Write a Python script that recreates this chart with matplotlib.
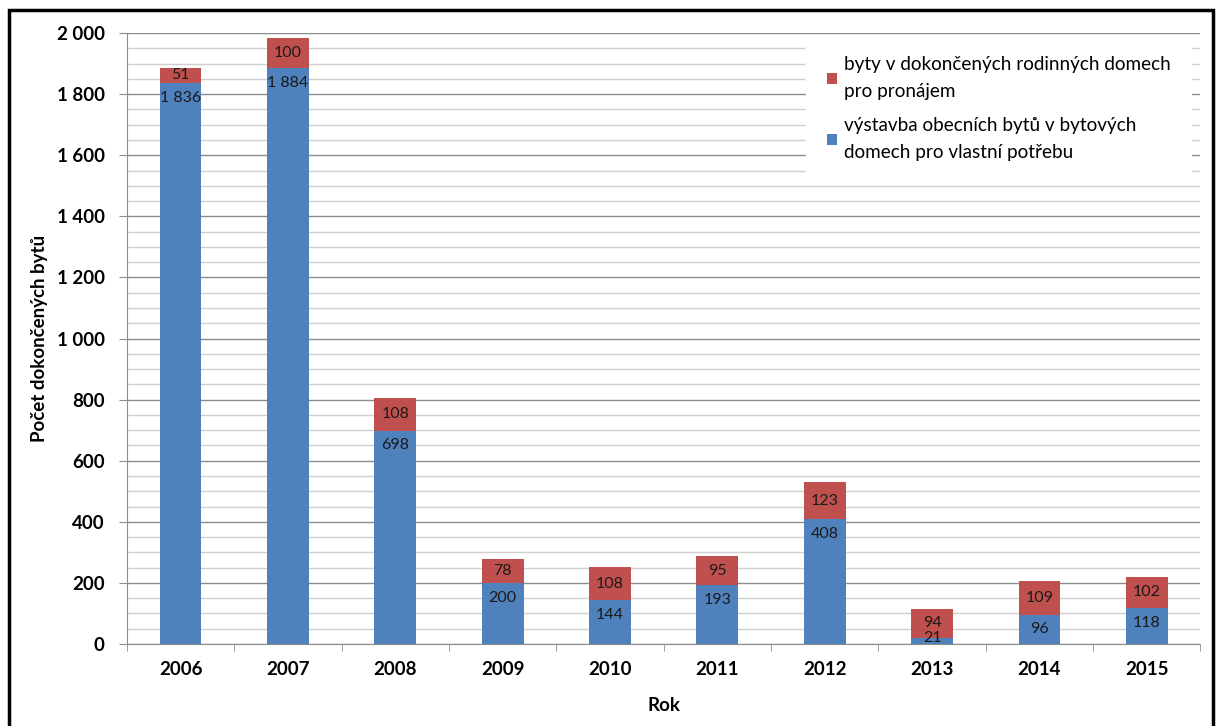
import numpy as np
import matplotlib.pyplot as plt
from matplotlib.patches import Rectangle
from matplotlib.ticker import MultipleLocator, FuncFormatter

plt.rcParams['font.family'] = ['Lato', 'DejaVu Sans']

roky = ['2006', '2007', '2008', '2009', '2010', '2011', '2012', '2013', '2014', '2015']
obecni = [1836, 1884, 698, 200, 144, 193, 408, 21, 96, 118]
rodinne = [51, 100, 108, 78, 108, 95, 123, 94, 109, 102]

lbl_rod = 'byty v dokončených rodinných domech\npro pronájem'
lbl_obec = 'výstavba obecních bytů v bytových\ndomech pro vlastní potřebu'

modra = '#4F81BD'
cervena = '#C0504D'

fig = plt.figure(figsize=(12.2, 7.26), dpi=100)
ax = fig.add_axes([0.104, 0.1129, 0.880, 0.8416])

x = np.arange(len(roky))
b1 = ax.bar(x, obecni, width=0.39, color=modra, label=lbl_obec, zorder=3)
b2 = ax.bar(x, rodinne, width=0.39, bottom=obecni, color=cervena, label=lbl_rod, zorder=3)

def fmt(v):
    return f'{v:,}'.replace(',', ' ')

for i in range(len(roky)):
    if obecni[i] < 60:
        # too short for a label inside, Excel keeps it at the bar top
        ax.text(x[i], obecni[i], fmt(obecni[i]), ha='center', va='center',
                fontsize=11.5, color='#1a1a1a', zorder=4)
    else:
        ax.annotate(fmt(obecni[i]), (x[i], obecni[i]), xytext=(0, -5.5), textcoords='offset points',
                    ha='center', va='top', fontsize=11.5, color='#1a1a1a', zorder=4)
    ax.text(x[i], obecni[i] + rodinne[i] / 2, fmt(rodinne[i]), ha='center', va='center',
            fontsize=11.5, color='#1a1a1a', zorder=4)

ax.set_xlim(-0.5, len(roky) - 0.5)
ax.set_ylim(0, 2000)
ax.yaxis.set_major_locator(MultipleLocator(200))
ax.yaxis.set_minor_locator(MultipleLocator(50))
ax.yaxis.set_major_formatter(FuncFormatter(lambda v, p: fmt(int(v))))
ax.grid(axis='y', which='major', color='#8c8c8c', linewidth=1.0, zorder=0)
ax.grid(axis='y', which='minor', color='#d0d0d0', linewidth=1.0, zorder=0)

ax.set_xticks(x)
ax.set_xticklabels(roky, fontweight='bold', fontsize=13.5)
ax.set_xticks(np.arange(-0.5, len(roky)), minor=True)
ax.tick_params(axis='x', which='major', length=0, pad=12)
ax.tick_params(axis='x', which='minor', length=5, color='#8c8c8c')
ax.tick_params(axis='y', which='major', length=6, color='#8c8c8c', labelsize=13.5, pad=10)
ax.tick_params(axis='y', which='minor', length=0)
for t in ax.get_yticklabels():
    t.set_fontweight('bold')

for s in ['top', 'right']:
    ax.spines[s].set_visible(False)
for s in ['left', 'bottom']:
    ax.spines[s].set_color('#8c8c8c')

ax.set_xlabel('Rok', fontweight='bold', fontsize=13.5, labelpad=14)
ax.set_ylabel('Počet dokončených bytů', fontweight='bold', fontsize=13.5, labelpad=6)

leg = ax.legend(handles=[b2, b1], loc='upper right', bbox_to_anchor=(1.0, 1.012), fontsize=13.6,
                frameon=True, framealpha=1, edgecolor='white', handlelength=0.55, handleheight=0.55,
                handletextpad=0.35, labelspacing=0.9, borderpad=1.1, fancybox=False)
for t in leg.get_texts():
    t.set_linespacing(1.73)
leg.set_zorder(5)

fig.patches.append(Rectangle((0.007, -0.01), 0.987, 0.996, transform=fig.transFigure,
                             fill=False, edgecolor='black', linewidth=2.5))

plt.savefig('out.png', dpi=100)
